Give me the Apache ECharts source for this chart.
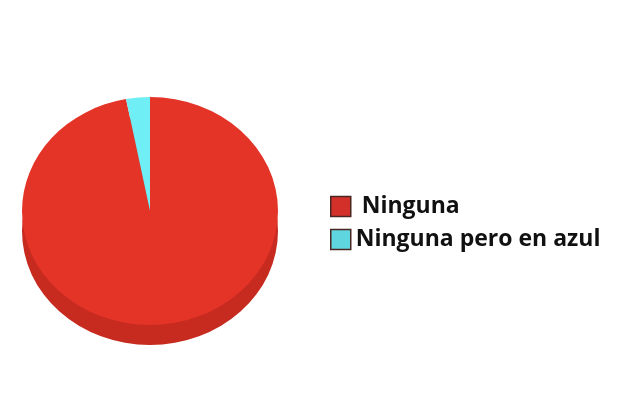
<!DOCTYPE html>
<html>
<head>
<meta charset="utf-8">
<script src="https://cdn.jsdelivr.net/npm/echarts@6/dist/echarts.min.js"></script>
<style>
  html, body { margin: 0; padding: 0; background: #fff; }
  #main { width: 636px; height: 414px; }
</style>
</head>
<body>
<div id="main"></div>
<script>
var categories = ['Ninguna', 'Ninguna pero en azul'];
var values = [97, 3];
var topColors = ['#e33427', '#70eef6'];
var sideColors = ['#c72a1f', '#c72a1f'];
var legendColors = ['#d4302a', '#5fd6df'];

var myChart = echarts.init(document.getElementById('main'));

var total = values.reduce(function (a, b) { return a + b; }, 0);
// pie geometry (tilted look)
var cx = 150, cy = 211, rx = 128, ry = 114, depth = 20;

function makeRender(idx) {
    var before = 0;
    for (var i = 0; i < idx; i++) before += values[i];
    return function (params, api) {
        var v = api.value(0);
        var start = -Math.PI / 2 + 2 * Math.PI * before / total;
        var end = start + 2 * Math.PI * v / total;
        var shape = { cx: cx, cy: cy, r0: 0, r: rx, startAngle: start, endAngle: end, clockwise: true };
        return {
            type: 'group',
            children: [{
                type: 'sector',
                shape: shape,
                y: depth,
                scaleY: ry / rx,
                originX: cx,
                originY: cy,
                z2: 0,
                style: { fill: sideColors[idx] }
            }, {
                type: 'sector',
                shape: shape,
                scaleY: ry / rx,
                originX: cx,
                originY: cy,
                z2: 10,
                style: { fill: topColors[idx] }
            }]
        };
    };
}

var series = categories.map(function (name, i) {
    return {
        name: name,
        type: 'custom',
        coordinateSystem: 'none',
        itemStyle: { color: legendColors[i] },
        renderItem: makeRender(i),
        data: [[values[i]]]
    };
});

var option = {
    animation: false,
    backgroundColor: '#ffffff',
    legend: {
        orient: 'vertical',
        left: 325,
        top: 190,
        icon: 'rect',
        itemWidth: 20,
        itemHeight: 20,
        itemGap: 10,
        selectedMode: false,
        data: categories.map(function (name, i) {
            return {
                name: name,
                itemStyle: { color: legendColors[i], borderColor: '#4a2622', borderWidth: 1.5 }
            };
        }),
        formatter: function (name) {
            return name === categories[0] ? ' ' + name : name;
        },
        textStyle: {
            fontFamily: 'Open Sans',
            fontWeight: 'bold',
            fontSize: 23,
            color: '#111'
        }
    },
    series: series
};

myChart.setOption(option);
</script>
</body>
</html>
